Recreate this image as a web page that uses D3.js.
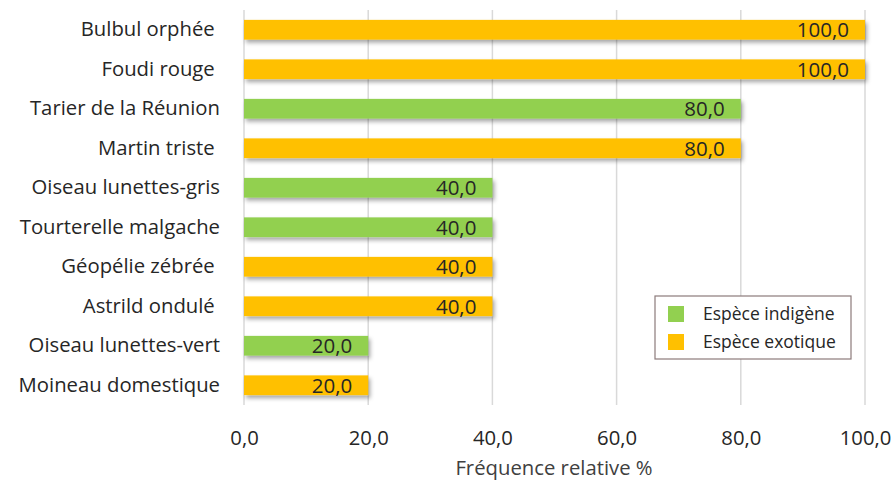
<!DOCTYPE html>
<html><head><meta charset="utf-8">
<script src="https://cdn.jsdelivr.net/npm/d3@7"></script>
<style>body{margin:0;background:#fff}svg{display:block}text{font-family:"Open Sans",sans-serif;white-space:pre}</style>
</head><body>
<script>
const categories = ["Bulbul orphée ","Foudi rouge ","Tarier de la Réunion","Martin triste ","Oiseau lunettes-gris","Tourterelle malgache","Géopélie zébrée ","Astrild ondulé ","Oiseau lunettes-vert","Moineau domestique"];
const values = [100,100,80,80,40,40,40,40,20,20];
const types = ["exotique","exotique","indigène","exotique","indigène","indigène","exotique","exotique","indigène","exotique"];
const legendLabels = ["Espèce indigène","Espèce exotique"];
const legendKeys = ["indigène","exotique"];
const xTicks = [0,20,40,60,80,100];
const xTitle = "Fréquence relative %";

const W=893,H=483;
const margin={left:244,right:28,top:10,bottom:78};
const svg=d3.select("body").append("svg").attr("width",W).attr("height",H);
const defs=svg.append("defs");
const f=defs.append("filter").attr("id","sh").attr("x","-5%").attr("y","-30%").attr("width","115%").attr("height","180%");
f.append("feDropShadow").attr("dx",2).attr("dy",3).attr("stdDeviation",2).attr("flood-color","#000").attr("flood-opacity",0.35);

const x=d3.scaleLinear().domain([0,100]).range([margin.left,865]);
const y=d3.scaleBand().domain(categories).range([margin.top,H-margin.bottom]).paddingInner(0.5).paddingOuter(0.25);
const color=d3.scaleOrdinal().domain(legendKeys).range(["#92D050","#FFC000"]);
const fmt=v=>d3.format(".1f")(v).replace(".",",");
const FONT="'Open Sans',sans-serif";

// grid
svg.append("g").selectAll("line").data(xTicks).join("line")
 .attr("x1",d=>x(d)).attr("x2",d=>x(d)).attr("y1",margin.top).attr("y2",405)
 .attr("stroke","#d9d9d9").attr("stroke-width",1.5);

// bars
svg.append("g").selectAll("rect").data(categories).join("rect")
 .attr("x",x(0)).attr("y",(d)=>y(d)).attr("height",y.bandwidth())
 .attr("width",(d,i)=>x(values[i])-x(0))
 .attr("fill",(d,i)=>color(types[i])).attr("filter","url(#sh)");

// value labels
svg.append("g").selectAll("text").data(categories).join("text")
 .attr("x",(d,i)=>x(values[i])-16).attr("y",d=>y(d)+y.bandwidth()/2).attr("dy","0.36em")
 .attr("text-anchor","end").attr("font-size",20.5).attr("fill","#262626")
 .text((d,i)=>fmt(values[i]));

// y axis labels
const yAxis=d3.axisLeft(y).tickSize(0).tickPadding(24);
const gy=svg.append("g").attr("transform",`translate(${x(0)},0)`).call(yAxis);
gy.select(".domain").remove();
gy.selectAll("text").attr("font-size",20.3).attr("fill","#262626").attr("font-family",FONT);

// x axis
const xAxis=d3.axisBottom(x).tickValues(xTicks).tickSize(0).tickPadding(24).tickFormat(fmt);
const gx=svg.append("g").attr("transform",`translate(0,407)`).call(xAxis);
gx.select(".domain").remove();
gx.selectAll("text").attr("font-size",20.3).attr("fill","#262626").attr("font-family",FONT);

svg.append("text").attr("x",554).attr("y",475).attr("text-anchor","middle").attr("font-size",20.3).attr("fill","#404040").text(xTitle);

// legend
const lg=svg.append("g").attr("transform","translate(655,296)");
lg.append("rect").attr("width",196).attr("height",63).attr("fill","#fff").attr("stroke","#8c7b7b").attr("stroke-width",1.2);
const li=lg.selectAll("g").data(legendKeys).join("g").attr("transform",(d,i)=>`translate(13,${18+i*28})`);
li.append("rect").attr("x",0).attr("y",-8).attr("width",16).attr("height",16).attr("fill",d=>color(d));
li.append("text").attr("x",35).attr("dy","0.35em").attr("font-size",17.5).attr("fill","#262626").text((d,i)=>legendLabels[i]);
</script>
</body></html>
